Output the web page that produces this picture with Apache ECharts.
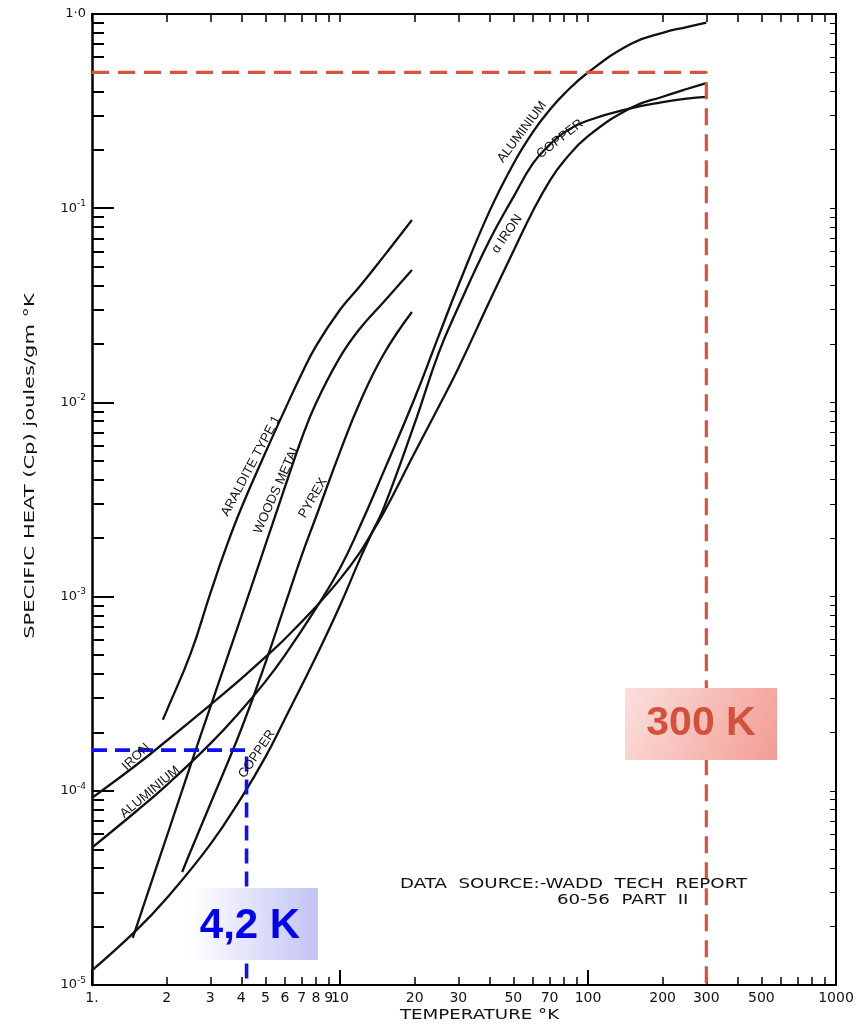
<!DOCTYPE html>
<html><head><meta charset="utf-8">
<script src="https://cdn.jsdelivr.net/npm/echarts@6/dist/echarts.min.js"></script>
<style>html,body{margin:0;padding:0;background:#fff}#c{width:863px;height:1024px}</style>
</head><body><div id="c"></div>
<script>
// ---- data (T in K, Cp in J/g K) ----
const aluminiumT  = [1,1.5,2,3,4,5,6,8,10,12,15,20,25,30,40,50,60,70,80,100,150,200,250,300];
const aluminiumCp = [5.1e-5,7.8e-5,1.07e-4,1.75e-4,2.6e-4,3.65e-4,5.0e-4,8.7e-4,1.40e-3,2.28e-3,4.4e-3,0.0105,0.022,0.040,0.096,0.169,0.247,0.320,0.387,0.500,0.705,0.80,0.857,0.904];
const copperT  = [1,1.5,2,3,4,5,6,8,10,12,13.5,15,20,25,30,40,50,60,70,80,100,150,200,250,300];
const copperCp = [1.19e-5,1.9e-5,2.8e-5,5.3e-5,9.2e-5,1.49e-4,2.35e-4,4.9e-4,9.0e-4,1.55e-3,2.15e-3,2.85e-3,7.8e-3,0.018,0.031,0.068,0.114,0.170,0.212,0.245,0.283,0.328,0.352,0.367,0.374];
const ironT  = [1,1.5,2,3,4,5,6,8,10,12,13.5,15,20,25,30,40,50,60,70,80,100,150,200,250,300];
const ironCp = [9.2e-5,1.35e-4,1.81e-4,2.77e-4,3.78e-4,4.88e-4,6.07e-4,8.86e-4,1.23e-3,1.68e-3,2.15e-3,2.7e-3,5.5e-3,9.5e-3,0.0150,0.0330,0.0600,0.097,0.138,0.175,0.235,0.33,0.375,0.411,0.441];
const alralditeT = [1.93,2,2.5,3,3.5,4,5,6,7,8,10,12,15,19.5];
const alralditeCp = [2.32e-4,2.58e-4,5.1e-4,1.04e-3,1.84e-3,2.86e-3,5.5e-3,9.2e-3,0.0140,0.0195,0.0300,0.0395,0.0565,0.087];
const woodsT  = [1.46,2,2.5,3,4,5,6,7,8,10,12,15,19.5];
const woodsCp = [1.75e-5,5.8e-5,1.36e-4,2.7e-4,7.9e-4,1.84e-3,3.67e-3,6.5e-3,9.9e-3,0.0171,0.0239,0.0329,0.048];
const pyrexT  = [2.31,2.5,3,4,5,6,7,8,10,12,15,19.5];
const pyrexCp = [3.82e-5,4.9e-5,8.55e-5,2.08e-4,4.55e-4,9.06e-4,1.62e-3,2.57e-3,5.56e-3,9.93e-3,0.0177,0.0292];
// reference markers
const marker300 = {T: 300, Cp: 0.5};
const marker42  = {T: 4.2, Cp: 1.62e-4};
// tick labels
const xLabelValues = [1,2,3,4,5,6,7,8,9,10,20,30,50,70,100,200,300,500,1000];
const xLabelTexts  = ['1.','2','3','4','5','6','7','8','9','10','20','30','50','70','100','200','300','500','1000'];
const yLabelValues = [1e-5,1e-4,1e-3,1e-2,1e-1,1];
const yLabelTexts  = ['{b|10}{s|-5}','{b|10}{s|-4}','{b|10}{s|-3}','{b|10}{s|-2}','{b|10}{s|-1}','{b|1·0}'];

const xTicks = []; [1,10,100].forEach(d => { for (let k=1;k<=9;k++) xTicks.push(k*d); }); xTicks.push(1000);
const yTicks = []; for (let e=-5;e<=-1;e++) for (let k=1;k<=9;k++) yTicks.push(+(k*Math.pow(10,e)).toPrecision(3)); yTicks.push(1);
const xMajor = [1,10,100,1000];
const yMajor = [1e-5,1e-4,1e-3,1e-2,1e-1,1];

const zip = (a,b) => a.map((v,i) => [v,b[i]]);
const near = (arr, v) => arr.findIndex(u => Math.abs(u - v) / u < 1e-6);

const chart = echarts.init(document.getElementById('c'), null, {renderer:'canvas'});
const ink = '#111';
const axisFont = 'DejaVu Sans, sans-serif';
const noSplit = {show:false};

function xAx(opts){ return Object.assign({type:'log', logBase:10, min:1, max:1000, splitLine:noSplit, minorTick:{show:false}, minorSplitLine:{show:false}}, opts); }
function yAx(opts){ return Object.assign({type:'log', logBase:10, min:1e-5, max:1, splitLine:noSplit, minorTick:{show:false}, minorSplitLine:{show:false}}, opts); }

const curve = (name, T, Cp) => ({
  name, type:'line', data: zip(T, Cp), showSymbol:false, smooth:0.45, silent:true,
  lineStyle:{color:ink, width:2.3}, z:3
});

const labelStyle = (text, x, y, deg) => ({
  type:'text', x, y, rotation: deg*Math.PI/180, z:20,
  style:{text, fill:'#111', font:'13px "Liberation Sans", Arial, sans-serif', align:'center', verticalAlign:'middle'}
});

chart.setOption({
  animation:false,
  backgroundColor:'#fff',
  grid:{left:92, right:27, top:14, bottom:39},
  xAxis:[
    xAx({position:'bottom', axisLine:{lineStyle:{color:'#000', width:2}},
      axisTick:{inside:true, length:8, customValues:xTicks, lineStyle:{color:'#000', width:1.5}},
      axisLabel:{customValues:xLabelValues, formatter:v => { const i = near(xLabelValues, v); return i >= 0 ? xLabelTexts[i] : ''; },
        color:'#111', fontSize:14, fontFamily:axisFont, margin:6}}),
    xAx({position:'bottom', axisLine:{show:false},
      axisTick:{inside:true, length:15, customValues:xMajor, lineStyle:{color:'#000', width:2}},
      axisLabel:{show:false}}),
    xAx({position:'top', axisLine:{lineStyle:{color:'#000', width:2}},
      axisTick:{inside:true, length:8, customValues:xTicks, lineStyle:{color:'#000', width:1.5}},
      axisLabel:{show:false}})
  ],
  yAxis:[
    yAx({position:'left', axisLine:{lineStyle:{color:'#000', width:2.5}},
      axisTick:{inside:true, length:12, customValues:yTicks, lineStyle:{color:'#000', width:2}},
      axisLabel:{customValues:yLabelValues, formatter:v => { const i = near(yLabelValues, v); return i >= 0 ? yLabelTexts[i] : ''; },
        margin:6, rich:{b:{fontSize:13, fontFamily:axisFont, color:'#111'}, s:{fontSize:9, fontFamily:axisFont, color:'#111', padding:[0,0,9,0]}}}}),
    yAx({position:'left', axisLine:{show:false},
      axisTick:{inside:true, length:22, customValues:yMajor, lineStyle:{color:'#000', width:2}},
      axisLabel:{show:false}}),
    yAx({position:'right', axisLine:{lineStyle:{color:'#000', width:2}},
      axisTick:{inside:true, length:6, customValues:yTicks, lineStyle:{color:'#000', width:1}},
      axisLabel:{show:false}})
  ],
  series:[
    curve('Aluminium', aluminiumT, aluminiumCp),
    curve('Copper', copperT, copperCp),
    curve('Iron', ironT, ironCp),
    curve('Araldite Type 1', alralditeT, alralditeCp),
    curve("Wood's metal", woodsT, woodsCp),
    curve('Pyrex', pyrexT, pyrexCp),
    {name:'300 K', type:'line', silent:true, showSymbol:false, z:5,
     data:[[1, marker300.Cp],[marker300.T, marker300.Cp],[marker300.T, 1e-5]],
     lineStyle:{color:'#d9533f', width:3.2, type:[17,9]}},
    {name:'4.2 K', type:'line', silent:true, showSymbol:false, z:5,
     data:[[1, marker42.Cp],[marker42.T, marker42.Cp],[marker42.T, 1e-5]],
     lineStyle:{color:'#1010f0', width:3.6, type:[15,8]}}
  ],
  graphic:[
    {type:'text', x:400, y:1015, z:20, scaleX:1.3,
     style:{text:'TEMPERATURE °K', fill:'#111', font:'14px "DejaVu Sans", sans-serif', verticalAlign:'middle'}},
    {type:'text', x:30, y:466, z:20, rotation:Math.PI/2, scaleX:1.5,
     style:{text:'SPECIFIC HEAT (Cp) joules/gm °K', fill:'#111', font:'14px "DejaVu Sans", sans-serif', align:'center', verticalAlign:'middle'}},
    labelStyle('ARALDITE TYPE 1', 251, 466, 62),
    labelStyle("WOODS METAL", 277, 489, 66),
    labelStyle('PYREX', 313, 498, 60),
    labelStyle('ALUMINIUM', 522, 132, 53),
    labelStyle('COPPER', 560, 139, 38),
    labelStyle('α IRON', 507, 234, 55),
    labelStyle('IRON', 136, 757, 44),
    labelStyle('ALUMINIUM', 150, 792, 40),
    labelStyle('COPPER', 257, 754, 56),
    {type:'text', x:400, y:884, z:20, scaleX:1.3, style:{text:'DATA  SOURCE:-WADD  TECH  REPORT', fill:'#111', font:'14px "DejaVu Sans", sans-serif', verticalAlign:'middle'}},
    {type:'text', x:557, y:900, z:20, scaleX:1.3, style:{text:'60-56  PART  II', fill:'#111', font:'14px "DejaVu Sans", sans-serif', verticalAlign:'middle'}},
    {type:'rect', z:30, shape:{x:625, y:688, width:152, height:72},
     style:{fill:new echarts.graphic.LinearGradient(0,0,1,1,[{offset:0,color:'#fbe0dd'},{offset:1,color:'#f39c94'}])}},
    {type:'text', z:31, x:701, y:724, style:{text:'300 K', fill:'#d4503b', font:'bold 41px "Liberation Sans", Arial, sans-serif', align:'center', verticalAlign:'middle'}},
    {type:'rect', z:30, shape:{x:190, y:888, width:128, height:72},
     style:{fill:new echarts.graphic.LinearGradient(0,0,1,0,[{offset:0,color:'#ffffff'},{offset:1,color:'#c3c3f5'}])}},
    {type:'text', z:31, x:250, y:926, style:{text:'4,2 K', fill:'#0000ee', font:'bold 42px "Liberation Sans", Arial, sans-serif', align:'center', verticalAlign:'middle'}}
  ]
});
</script></body></html>
